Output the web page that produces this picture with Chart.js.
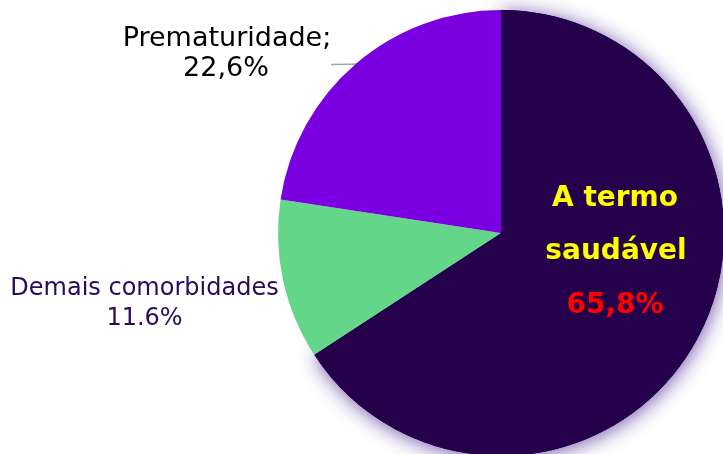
<!DOCTYPE html>
<html>
<head>
<meta charset="utf-8">
<script src="https://cdn.jsdelivr.net/npm/chart.js@4/dist/chart.umd.min.js"></script>
<style>
html,body{margin:0;padding:0;background:#fff;overflow:hidden;width:723px;height:454px;}
#wrap{position:absolute;left:0;top:0;width:730px;height:470px;}
</style>
</head>
<body>
<div id="wrap"><canvas id="c" width="730" height="470"></canvas></div>
<script>
const categories = ['A termo saudável', 'Demais comorbidades', 'Prematuridade'];
const values = [65.8, 11.6, 22.6];
const valueLabels = ['65,8%', '11.6%', '22,6%'];
const colors = ['#25004b', '#64d68a', '#7b00e1'];

const shadowPlugin = {
  id: 'shadowPlugin',
  beforeDatasetsDraw(chart) {
    const ctx = chart.ctx;
    const arc = chart.getDatasetMeta(0).data[0];
    ctx.save();
    ctx.shadowColor = 'rgba(105,80,165,0.95)';
    ctx.shadowBlur = 20;
    ctx.shadowOffsetX = 1;
    ctx.shadowOffsetY = 2;
    arc.draw(ctx);
    ctx.restore();
    // leader line for Prematuridade (drawn beneath the slice)
    const cx = arc.x, cy = arc.y;
    ctx.save();
    ctx.strokeStyle = '#a6a6a6';
    ctx.lineWidth = 1.5;
    ctx.beginPath();
    ctx.moveTo(cx - 170, cy - 168.5);
    ctx.lineTo(cx - 135, cy - 169);
    ctx.stroke();
    ctx.restore();
  }
};

const labelPlugin = {
  id: 'labelPlugin',
  afterDatasetsDraw(chart) {
    const ctx = chart.ctx;
    const arc = chart.getDatasetMeta(0).data[0];
    const cx = arc.x, cy = arc.y;
    ctx.save();
    ctx.textAlign = 'center';
    ctx.textBaseline = 'alphabetic';
    // Prematuridade
    ctx.font = '27px "DejaVu Sans"';
    ctx.fillStyle = '#000000';
    ctx.fillText(categories[2] + ';', cx - 274, cy - 187);
    ctx.fillText(valueLabels[2], cx - 275, cy - 157);
    // Demais comorbidades
    ctx.font = '24px "DejaVu Sans"';
    ctx.fillStyle = '#2a0a5c';
    ctx.fillText(categories[1], cx - 356.5, cy + 62);
    ctx.fillText(valueLabels[1], cx - 356.5, cy + 92);
    // A termo saudável
    ctx.font = 'bold 28px "DejaVu Sans"';
    ctx.fillStyle = '#ffff00';
    const parts = categories[0].split(' ');
    ctx.fillText(parts[0] + ' ' + parts[1], cx + 114, cy - 27);
    ctx.fillText(parts[2], cx + 115, cy + 26);
    ctx.fillStyle = '#ff0000';
    ctx.fillText(valueLabels[0], cx + 114, cy + 80);
    ctx.restore();
  }
};

new Chart(document.getElementById('c'), {
  type: 'pie',
  data: {
    labels: categories,
    datasets: [{
      data: values,
      backgroundColor: colors,
      borderWidth: 0,
      hoverOffset: 0
    }]
  },
  options: {
    responsive: false,
    animation: false,
    rotation: 0,
    layout: { padding: { left: 278, right: 6, top: 10, bottom: 14 } },
    plugins: {
      legend: { display: false },
      tooltip: { enabled: false }
    }
  },
  plugins: [shadowPlugin, labelPlugin]
});
</script>
</body>
</html>
